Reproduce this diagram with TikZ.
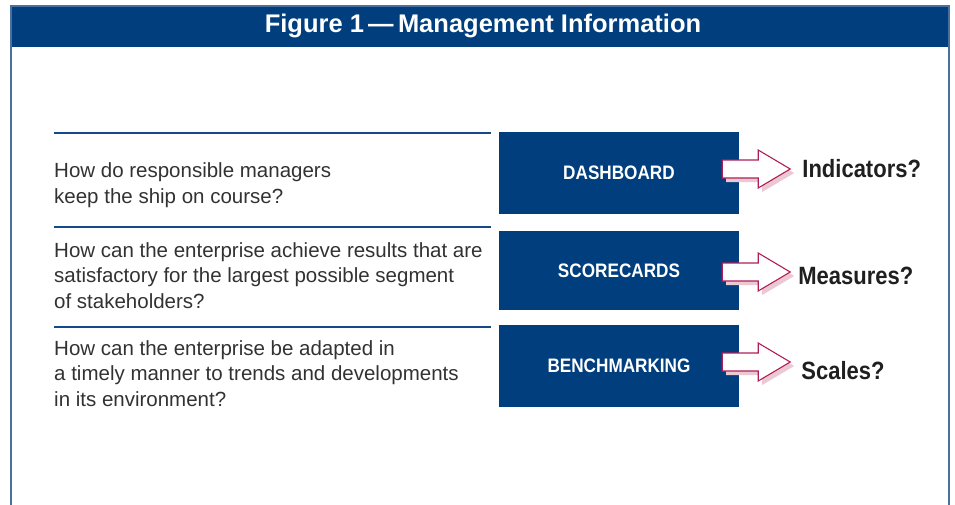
\documentclass[tikz,border=0pt]{standalone}
\usepackage{fontspec}
\setmainfont{Liberation Sans}
\newfontfamily\condfont[FakeStretch=0.88]{Liberation Sans}
\usetikzlibrary{positioning}

\definecolor{navyblue}{RGB}{0,62,126}
\definecolor{framecol}{RGB}{74,112,160}
\definecolor{rulecol}{RGB}{22,72,140}
\definecolor{arrowcol}{RGB}{176,30,90}
\definecolor{shadecol}{RGB}{236,200,210}
\definecolor{textgrey}{RGB}{50,50,50}

\tikzset{
	box/.style={fill=navyblue, text=white, minimum width=240pt, inner sep=0pt,
		font=\condfont\bfseries\fontsize{19.5}{22}\selectfont},
	question/.style={anchor=base west, align=left, inner sep=0pt, text=textgrey,
		font=\fontsize{20.5}{25.5}\selectfont},
	answer/.style={inner sep=0pt, text=black!88,
		font=\condfont\bfseries\fontsize{25}{28}\selectfont},
	rule/.style={rulecol, line width=2pt}
}

\newcommand*{\openArrow}[2]{ %#1 is the box, #2 moves the tip down
	\begin{scope}[shift={(#1.east)}, shift={(0,#2)}]
		\fill[shadecol] (-13,-5) -- (23,-5) -- (23,-15) -- (55,4) -- (23,23) -- (23,13) -- (-13,13) -- cycle;
		\draw[arrowcol, fill=white, line width=1.1pt, line join=miter]
		(-17,-9) -- (19,-9) -- (19,-19) -- (51,0) -- (19,19) -- (19,9) -- (-17,9) -- cycle;
	\end{scope}
}

\begin{document}
\begin{tikzpicture}[x=1pt,y=-1pt]
		\useasboundingbox (0,0) rectangle (955,504);
		
		% frame and title bar
		\fill[navyblue] (11,6) rectangle (950,47);
		\draw[framecol, line width=2pt] (11,510) -- (11,6) -- (949,6) -- (949,510);
		\node[text=white, anchor=base, font=\bfseries\fontsize{25.5}{28}\selectfont] (title) at (483,32)
		{Figure 1\,—\,Management Information};
		
		% rules on the left
		\draw[rule] (54,133) -- (491,133);
		\draw[rule] (54,227) -- (491,227);
		\draw[rule] (54,327) -- (491,327);
		
		% questions (base is the last line)
		\node[question] (q1) at (54,203) {How do responsible managers\\keep the ship on course?};
		\node[question] (q2) at (54,308) {How can the enterprise achieve results that are\\satisfactory for the largest possible segment\\of stakeholders?};
		\node[question] (q3) at (54,406) {How can the enterprise be adapted in\\a timely manner to trends and developments\\in its environment?};
		
		% the boxes
		\node[box, minimum height=82pt] (dash) at (619,173) {DASHBOARD};
		\node[box, minimum height=79pt] (score) at (619,270.5) {SCORECARDS};
		\node[box, minimum height=82pt] (bench) at (619,366) {BENCHMARKING};
		
		% arrows
		\openArrow{dash}{-4}
		\openArrow{score}{1.5}
		\openArrow{bench}{-4}
		
		% what comes out
		\node[answer, anchor=west, right=63pt of dash, yshift=4pt] (ind) {Indicators?};
		\node[answer, anchor=west, right=59pt of score, yshift=-5.5pt] (meas) {Measures?};
		\node[answer, anchor=west, right=62pt of bench, yshift=-5pt] (scal) {Scales?};
		
\end{tikzpicture}
\end{document}
